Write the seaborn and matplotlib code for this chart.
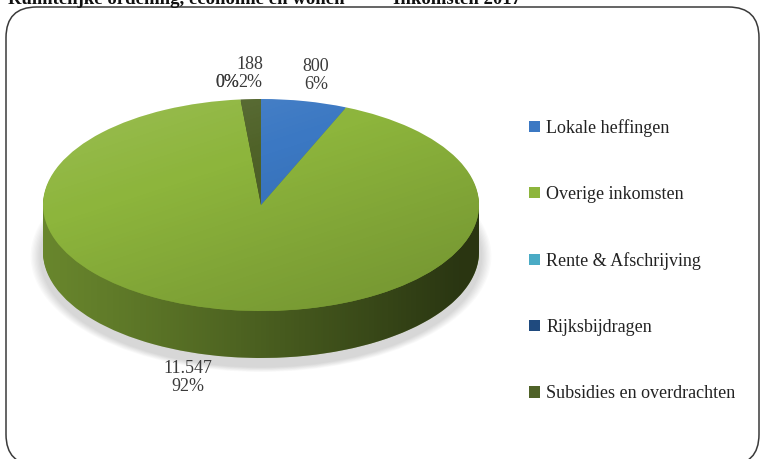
import numpy as np
import matplotlib
matplotlib.use("Agg")
import matplotlib.pyplot as plt
import seaborn as sns
from matplotlib.patches import Patch, Circle, Polygon, Ellipse, FancyBboxPatch
from matplotlib.colors import to_rgb

# ---- data ----
categories = ["Lokale heffingen", "Overige inkomsten", "Rente & Afschrijving",
              "Rijksbijdragen", "Subsidies en overdrachten"]
values = [800, 11547, 0, 0, 188]
value_labels = ["800", "11.547", "", "", "188"]
pct_labels = ["6%", "92%", "0%", "0%", "2%"]
colors = ["#3b78c3", "#8db53c", "#4aabc5", "#1f4a7e", "#4f6228"]
title_left = "Ruimtelijke ordening, economie en wonen"
title_right = "Inkomsten 2017"

sns.set_theme(style="white")
plt.rcParams["font.family"] = ["Liberation Serif", "DejaVu Serif"]

W, H = 766, 459
fig = plt.figure(figsize=(W / 100, H / 100), dpi=100)

# outer rounded frame
frame = FancyBboxPatch((6 / W, -6 / H), 753 / W, 458 / H,
                       boxstyle="round,pad=0,rounding_size=0.04",
                       transform=fig.transFigure, fill=False,
                       edgecolor="#3a3a3a", linewidth=1.1, mutation_aspect=W / H)
fig.patches.append(frame)

# title (partially cut at top)
fig.text(8 / W, 1 - 4 / H, title_left, fontsize=13.5, fontweight="bold",
         va="baseline", ha="left", color="#111111")
fig.text(393 / W, 1 - 4 / H, title_right, fontsize=13.5, fontweight="bold",
         va="baseline", ha="left", color="#111111")

# pie axes: center (261,205) px, rx 218, ry 106
cx, cy, rx, ry = 261, 205, 218, 106
L, R, T, B = 0, 520, 30, 440
ax = fig.add_axes([L / W, (H - B) / H, (R - L) / W, (B - T) / H])
xlim = ((L - cx) / rx, (R - cx) / rx)
ylim = ((cy - B) / ry, (cy - T) / ry)
depth = 47 / ry

# soft shadow
for i in range(8):
    s = 1.0 + 0.006 * i
    ax.add_patch(Ellipse((0.0, -depth - 0.04), 2 * s + 0.03, 2 * s + 0.10,
                         facecolor="black", alpha=0.02, linewidth=0, zorder=1))

# side (extrusion)
side_cols = [tuple(np.array(to_rgb(c)) * 0.78) for c in colors]
n = 40
for k in range(n, 0, -1):
    ax.pie(values, colors=side_cols, startangle=90, counterclock=False,
           radius=1, center=(0, -depth * k / n),
           wedgeprops=dict(linewidth=0, zorder=2))

# horizontal shading on side
t = np.linspace(np.pi, 2 * np.pi, 200)
side_poly = np.concatenate([np.c_[np.cos(t), np.sin(t)],
                            np.c_[np.cos(t[::-1]), np.sin(t[::-1]) - depth]])
clip_side = Polygon(side_poly, closed=True, transform=ax.transData)
gx = np.linspace(0, 1, 300)
shade = np.zeros((2, 300, 4))
shade[..., 3] = np.clip(0.05 + 0.6 * gx ** 1.1, 0, 0.62)
im = ax.imshow(shade, extent=[-1, 1, -1 - depth, 0], aspect="auto",
               zorder=3, interpolation="bilinear")
im.set_clip_path(clip_side)

# top surface
wedges, _ = ax.pie(values, colors=colors, startangle=90, counterclock=False,
                   radius=1, center=(0, 0),
                   wedgeprops=dict(linewidth=0, zorder=4))

# top gradient (light upper-left, darker lower-right)
gy, gxx = np.mgrid[0:1:200j, 0:1:300j]
g = (gy * 0.6 + gxx * 0.4)
top = np.zeros((200, 300, 4))
top[..., :3] = np.where(g[..., None] < 0.35, 1.0, 0.0)
top[..., 3] = np.where(g < 0.35, (0.35 - g) * 0.35, (g - 0.35) * 0.3)
im2 = ax.imshow(top, extent=[-1, 1, -1, 1], aspect="auto", zorder=5,
                interpolation="bilinear", origin="upper")
im2.set_clip_path(Circle((0, 0), 1, transform=ax.transData))

# data labels
total = sum(values)
ang = 90.0
nudge_x = [0.0, -0.14, -0.035, -0.035, 0.01]
for v, vl, pl, nx in zip(values, value_labels, pct_labels, nudge_x):
    span = 360.0 * v / total
    mid = np.deg2rad(ang - span / 2)
    ang -= span
    lx = 1.27 * np.cos(mid) + nx
    ly = 1.245 * np.sin(mid) if np.sin(mid) > 0 else 1.2 * np.sin(mid) - depth
    ax.text(lx, ly, f"{vl}\n{pl}", ha="center", va="center", fontsize=13,
            color="#3a3a3a", linespacing=1.1, zorder=6, clip_on=False)

ax.set_aspect("auto")
ax.set_xlim(*xlim)
ax.set_ylim(*ylim)
ax.axis("off")

# legend
handles = [Patch(facecolor=c, edgecolor="none") for c in colors]
fig.legend(handles, categories, loc="upper left",
           bbox_to_anchor=(529 / W, 1 - 119 / H), frameon=False,
           fontsize=13, labelspacing=2.72, handlelength=0.6, handleheight=0.6,
           handletextpad=0.35, borderpad=0, borderaxespad=0,
           labelcolor="#222222")

fig.savefig("out.png", dpi=100)
